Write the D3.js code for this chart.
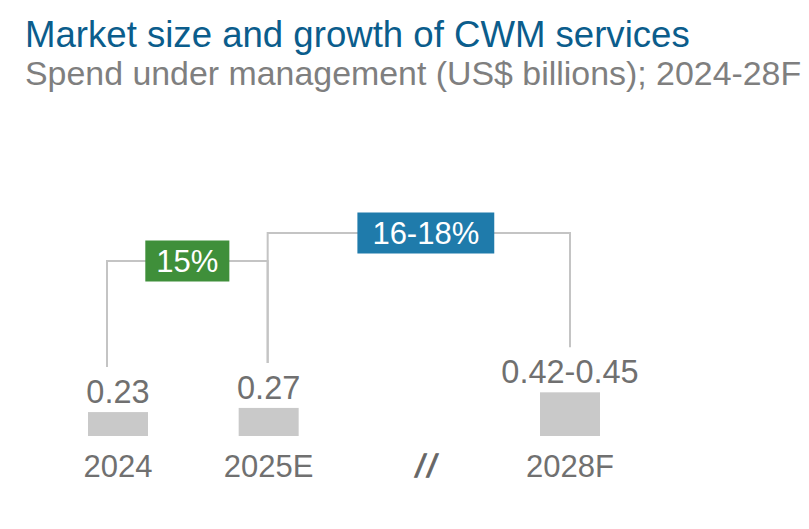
<!DOCTYPE html>
<html>
<head>
<meta charset="utf-8">
<script src="https://cdn.jsdelivr.net/npm/d3@7"></script>
<style>
  body { margin: 0; background: #fff; }
  svg { font-family: "Liberation Sans", Arial, sans-serif; }
</style>
</head>
<body>
<div id="chart"></div>
<script>
const WIDTH = 809;
const HEIGHT = 529;

// slots along the axis; "gap" holds the // break marker
const SLOTS = ["2024", "2025E", "gap", "2028F"];
const CATEGORIES = ["2024", "2025E", "2028F"];
const VALUES = [0.23, 0.27, 0.42];
const VALUE_LABELS = ["0.23", "0.27", "0.42-0.45"];

const GROWTH = [
  { from: "2024", to: "2025E", label: "15%", color: "#3f8f3a" },
  { from: "2025E", to: "2028F", label: "16-18%", color: "#1f7bab" },
];

const TEXT_GRAY = "#707070";
const BAR_GRAY = "#c9c9c9";
const LINE_GRAY = "#c4c4c4";

const baseline = 436;

const svg = d3.select("#chart")
  .append("svg")
  .attr("width", WIDTH)
  .attr("height", HEIGHT);

svg.append("text")
  .attr("x", 25)
  .attr("y", 47)
  .attr("fill", "#0b5d8c")
  .attr("font-size", 36.6)
  .text("Market size and growth of CWM services");

svg.append("text")
  .attr("x", 25)
  .attr("y", 84.5)
  .attr("fill", "#7f7f7f")
  .attr("font-size", 33.9)
  .text("Spend under management (US$ billions); 2024-28F");

const x = d3.scalePoint().domain(SLOTS).range([118, 570]);
const y = d3.scaleLinear().domain([0, 0.5]).range([baseline, baseline - 52]);
const barW = 60;

const data = CATEGORIES.map((c, i) => ({ cat: c, value: VALUES[i], label: VALUE_LABELS[i] }));

// —— Bars ——
svg.selectAll(".bar")
  .data(data)
  .join("rect")
  .attr("class", "bar")
  .attr("x", (d) => x(d.cat) - barW / 2)
  .attr("y", (d) => y(d.value))
  .attr("width", barW)
  .attr("height", (d) => baseline - y(d.value))
  .attr("fill", BAR_GRAY);

svg.selectAll(".value-label")
  .data(data)
  .join("text")
  .attr("class", "value-label")
  .attr("x", (d) => x(d.cat))
  .attr("y", (d) => y(d.value) - 9)
  .attr("text-anchor", "middle")
  .attr("font-size", 32.5)
  .attr("fill", TEXT_GRAY)
  .text((d) => d.label);

svg.selectAll(".cat-label")
  .data(data)
  .join("text")
  .attr("class", "cat-label")
  .attr("x", (d) => x(d.cat))
  .attr("y", 477)
  .attr("text-anchor", "middle")
  .attr("font-size", 31)
  .attr("fill", TEXT_GRAY)
  .text((d) => d.cat);

// break marker between 2025E and 2028F
svg.append("text")
  .attr("x", x("gap") + 7)
  .attr("y", 477)
  .attr("text-anchor", "middle")
  .attr("font-size", 32)
  .attr("letter-spacing", 3)
  .attr("fill", "#666")
  .attr("stroke", "#666")
  .attr("stroke-width", 1)
  .attr("transform", `translate(${x("gap") + 7},477) skewX(-8) translate(${-(x("gap") + 7)},-477)`)
  .text("//");

// —— Growth connectors ——
const valueOf = Object.fromEntries(data.map((d) => [d.cat, d.value]));
const anchorX = { "2024": x("2024") - 11, "2025E": x("2025E") - 1, "2028F": x("2028F") };
const levels = [261, 233];

GROWTH.forEach((g, i) => {
  const x0 = anchorX[g.from];
  const x1 = anchorX[g.to];
  const yl = levels[i];
  const path = d3.path();
  path.moveTo(x0, y(valueOf[g.from]) - 45);
  path.lineTo(x0, yl);
  path.lineTo(x1, yl);
  path.lineTo(x1, y(valueOf[g.to]) - 45);
  svg.append("path")
    .attr("d", path.toString())
    .attr("fill", "none")
    .attr("stroke", LINE_GRAY)
    .attr("stroke-width", 2);

  const cx = (x0 + x1) / 2 + (i === 1 ? 7 : 0);
  const lbl = svg.append("g");
  const t = lbl.append("text")
    .attr("x", cx)
    .attr("y", yl + 11)
    .attr("text-anchor", "middle")
    .attr("font-size", 31)
    .attr("fill", "#fff")
    .text(g.label);
  const bb = t.node().getBBox();
  const padX = i === 0 ? 11 : 15;
  lbl.insert("rect", "text")
    .attr("x", bb.x - padX)
    .attr("y", yl - 20.5)
    .attr("width", bb.width + padX * 2)
    .attr("height", 41)
    .attr("fill", g.color);
});
</script>
</body>
</html>
